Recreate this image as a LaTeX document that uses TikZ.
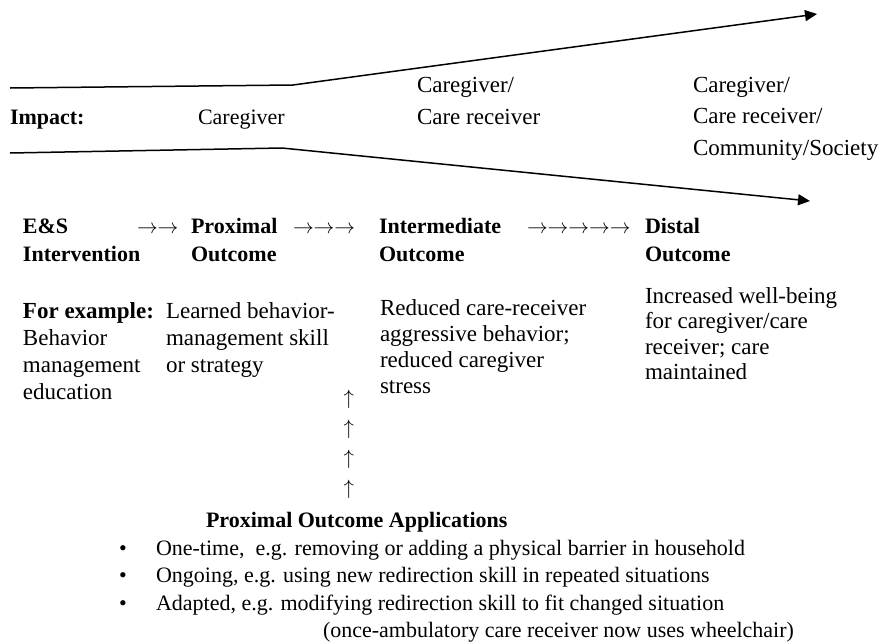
\documentclass[tikz,border=0pt]{standalone}
\usepackage{fontspec}
\setmainfont{Liberation Serif}
\usetikzlibrary{arrows.meta}
\tikzset{
  txt/.style={inner sep=0pt, outer sep=0pt, anchor=base west, align=left},
  big/.style={font=\fontsize{23}{31.5}\selectfont},
  hdr/.style={font=\fontsize{22}{28}\selectfont\bfseries},
  arr/.style={font=\fontsize{22}{28}\selectfont},
  body/.style={font=\fontsize{23}{27}\selectfont},
  list/.style={font=\fontsize{22}{27.5}\selectfont},
  flow/.style={line width=1.5pt, -{Triangle[length=12pt,width=11pt]}}
}
\begin{document}
\begin{tikzpicture}[x=1pt,y=-1pt]
\useasboundingbox (0,0) rectangle (886,643);
% impact band
\coordinate (t0) at (10,88);
\coordinate (t1) at (293,85);
\coordinate (t2) at (817,14);
\coordinate (b0) at (10,153);
\coordinate (b1) at (282,148);
\coordinate (b2) at (810,201);
\draw[flow] (t0) -- (t1) -- (t2);
\draw[flow] (b0) -- (b1) -- (b2);
\node[txt,font=\fontsize{22}{30}\selectfont\bfseries] (imp) at (10,124) {Impact:};
\node[txt,font=\fontsize{22}{30}\selectfont] (cg) at (198,124) {Caregiver};
\node[txt,big,font=\fontsize{23}{32}\selectfont] (cgcr) at (417,124) {Caregiver/\\Care receiver};
\node[txt,big] (cgcrcs) at (693,155) {Caregiver/\\Care receiver/\\Community/Society};
% headings
\node[txt,hdr] (es) at (23,261) {E\&S\\Intervention};
\node[txt,arr] (a1) at (137,233) {$\rightarrow\rightarrow$};
\node[txt,hdr] (prox) at (191,261) {Proximal\\Outcome};
\node[txt,arr] (a2) at (293,233) {$\rightarrow\rightarrow\rightarrow$};
\node[txt,hdr] (inter) at (379,261) {Intermediate\\Outcome};
\node[txt,arr] (a3) at (527,233) {$\rightarrow\rightarrow\rightarrow\rightarrow\rightarrow$};
\node[txt,hdr] (dist) at (645,261) {Distal\\Outcome};
% examples
\node[txt,body] (ex) at (23,399) {\textbf{For example:}\\Behavior\\management\\education};
\node[txt,body] (ex2) at (166,372) {Learned behavior-\\management skill\\or strategy};
\node[txt,body,font=\fontsize{23}{26}\selectfont] (ex3) at (380,393) {Reduced care-receiver\\aggressive behavior;\\reduced caregiver\\stress};
\node[txt,body,font=\fontsize{23}{25.5}\selectfont] (ex4) at (645,379.5) {Increased well-being\\for caregiver/care\\receiver; care\\maintained};
% up arrows
\node[txt,font=\fontsize{22}{30}\selectfont] (up) at (343.5,494) {$\uparrow$\\$\uparrow$\\$\uparrow$\\$\uparrow$};
% applications
\node[txt,font=\fontsize{22}{27}\selectfont\bfseries] (app) at (206,527) {Proximal Outcome Applications};
\node[txt,list] (bul) at (119,610) {•\\•\\•};
\node[txt,list] (lst) at (156,610) {One-time,\ \ e.g. removing or adding a physical barrier in household\\Ongoing, e.g. using new redirection skill in repeated situations\\Adapted, e.g. modifying redirection skill to fit changed situation};
\node[txt,list] (lst2) at (323,637) {(once-ambulatory care receiver now uses wheelchair)};
\end{tikzpicture}
\end{document}
